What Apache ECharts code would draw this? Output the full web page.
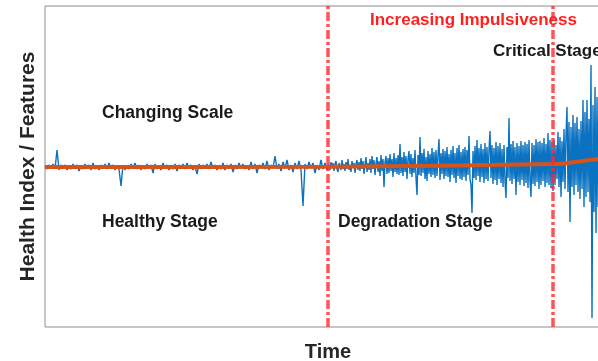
<!DOCTYPE html>
<html>
<head>
<meta charset="utf-8">
<script src="https://cdn.jsdelivr.net/npm/echarts@6/dist/echarts.min.js"></script>
<style>
  html, body { margin: 0; padding: 0; background: #fff; }
  #chart { width: 598px; height: 361px; }
</style>
</head>
<body>
<div id="chart"></div>
<script>
// health index samples, one list per stage
// healthy stage: time 0..282, every 2 units
const healthySignal = [
  1, -2, 2, -1, 3, -2, 17, -3, 2, -1,
  2, -3, 1, -2, 3, -1, 2, -4, 1, -2,
  3, -1, 2, -3, 4, -2, 1, -3, 2, -1,
  3, -2, 4, -1, 2, -3, 1, -2, -19, 2,
  -3, 1, -2, 3, -1, 4, -2, 2, -3, 1,
  -2, 3, -1, 2, -6, 3, -2, 1, -3, 4,
  -1, 2, -3, 1, -2, 3, -4, 2, -1, 3,
  -2, 4, -1, 2, -3, 1, -7, 3, -2, 2,
  -1, 3, -2, 5, -1, 2, -3, 1, -2, 4,
  -3, 2, -1, 3, -5, 2, -2, 4, -1, 3,
  -2, 1, -3, 5, -2, 3, -6, 2, -1, 4,
  -2, 6, -3, 2, -1, 11, -2, 3, -4, 5,
  -1, 7, -3, 2, -5, 4, -2, 6, -3, -39,
  3, -2, 5, -1, 4, -6, 2, -3, 7, -2,
  4, -3
]
// degradation stage: time 284..508, every unit
const degradationSignal = [
  2, -3, 5, -1, 4, -4, 3, 6, -2, -5, 4, 1, -3, 7, -2,
  3, -4, 5, -2, 8, -3, 2, -5, 6, -1, 4, -6, 3, 7, -3,
  5, -4, 9, -2, 6, -7, 3, 10, -5, 4, -3, 8, -6, 11, -2,
  7, -8, 4, 10, -5, 6, -9, 12, -4, 8, -20, 5, 11, -7, 9,
  -6, 13, -4, 8, -10, 14, -5, 9, -7, 12, -8, 23, -6, 10, -9,
  15, -5, 11, -12, 8, 16, -7, 13, -10, 9, -6, 17, -11, -28, 12,
  -8, 30, -9, 14, -6, 18, -12, 10, -14, 16, -7, 13, -10, 19, -8,
  15, -11, 17, -9, 12, 28, -13, 14, -7, 18, -12, 16, -9, 20, -10,
  13, -15, 17, -8, 21, -11, 14, -16, 19, -9, 22, -12, 15, -13, 18,
  -10, 20, -14, 17, -8, 31, -12, -18, -46, 16, -11, 21, -13, 27, -9,
  19, -15, 23, -10, 18, -16, 24, -12, 20, -14, 17, 36, -11, 22, -17,
  19, -13, 25, -18, 21, -12, 24, -16, 18, -20, 22, -14, -31, 20, -11,
  49, -14, 23, -17, 26, -12, 20, -28, 24, -15, 21, -18, 26, -13, 22,
  -19, 25, -16, 23, -21, 27, -14, -30, 24, -17, 22, -19, 28, -15, 25,
  -22, 26, -18, 24, -14, 29, -20, 23, -16, 34, -18, 27, -21, 25, -24
]
// critical stage: time 509..566, every unit
const criticalSignal = [
  27, -18, 22, -12, 35, -20, 30, -30, 26, -15, 38, -22, 32, 60, -25,
  45, -55, 40, -20, 52, -28, 44, -18, 50, -25, 38, -32, 46, -22, 67,
  -40, 55, -30, 67, -25, 48, -35, 102, -151, 62, -45, 80, -66, 70, -40,
  90, -50, 65, -60, 85, -45, 75, -55, 70, -48, 88, -62, 72
]
const segments = [
  { start: 0, step: 2, values: healthySignal },
  { start: 284, step: 1, values: degradationSignal },
  { start: 509, step: 1, values: criticalSignal }
]

// fitted trend
const trendX = [0, 283, 508, 530, 553, 566]
const trendY = [0, 0.3, 3, 5, 8, 10]

// stage boundaries (time)
const stageBounds = [283, 508]

const FONT = '"Liberation Sans", Arial, Helvetica, sans-serif'

const chart = echarts.init(document.getElementById('chart'))

function note(text, x, y, color, size) {
  return {
    type: 'text',
    left: x,
    top: y,
    z: 5,
    style: {
      text: text,
      fill: color,
      font: 'bold ' + size + 'px ' + FONT
    }
  }
}

const signalData = []
segments.forEach(seg => {
  seg.values.forEach((v, i) => signalData.push([seg.start + i * seg.step, v]))
})

chart.setOption({
  animation: false,
  grid: {
    left: 45,
    top: 6,
    width: 566,
    height: 321,
    outerBoundsMode: 'none',
    containLabel: false,
    show: true,
    borderColor: '#8c8c8c',
    borderWidth: 1
  },
  xAxis: {
    type: 'value',
    min: 0,
    max: 566,
    axisLine: { show: false },
    axisTick: { show: false },
    axisLabel: { show: false },
    splitLine: { show: false },
    name: 'Time',
    nameLocation: 'middle',
    nameGap: 15,
    nameTextStyle: { fontSize: 20, fontWeight: 'bold', color: '#262626', fontFamily: FONT }
  },
  yAxis: {
    type: 'value',
    min: -160,
    max: 161,
    axisLine: { show: false },
    axisTick: { show: false },
    axisLabel: { show: false },
    splitLine: { show: false },
    name: 'Health Index / Features',
    nameLocation: 'middle',
    nameGap: 6,
    nameTextStyle: { fontSize: 21, fontWeight: 'bold', color: '#262626', fontFamily: FONT }
  },
  graphic: [
    note('Changing Scale', 102, 104, '#1a1a1a', 17.5),
    note('Healthy Stage', 102, 213, '#1a1a1a', 17.5),
    note('Degradation Stage', 338, 213, '#1a1a1a', 17.5),
    note('Increasing Impulsiveness', 370, 12, '#ff1f1f', 17),
    note('Critical Stage', 493, 43, '#1a1a1a', 17)
  ],
  series: [
    {
      name: 'signal',
      type: 'line',
      data: signalData,
      showSymbol: false,
      symbol: 'none',
      lineStyle: { color: '#0a72c0', width: 1.4 },
      z: 2
    },
    {
      name: 'trend',
      type: 'line',
      data: trendX.map((x, i) => [x, trendY[i]]),
      smooth: 0.3,
      showSymbol: false,
      symbol: 'none',
      lineStyle: { color: '#d95319', width: 4 },
      z: 3,
      markLine: {
        silent: true,
        symbol: ['none', 'none'],
        label: { show: false },
        lineStyle: { color: 'rgba(255,40,50,0.8)', width: 3.5, type: [9, 3, 3, 3] },
        data: stageBounds.map(x => ({ xAxis: x }))
      }
    }
  ]
})
</script>
</body>
</html>
